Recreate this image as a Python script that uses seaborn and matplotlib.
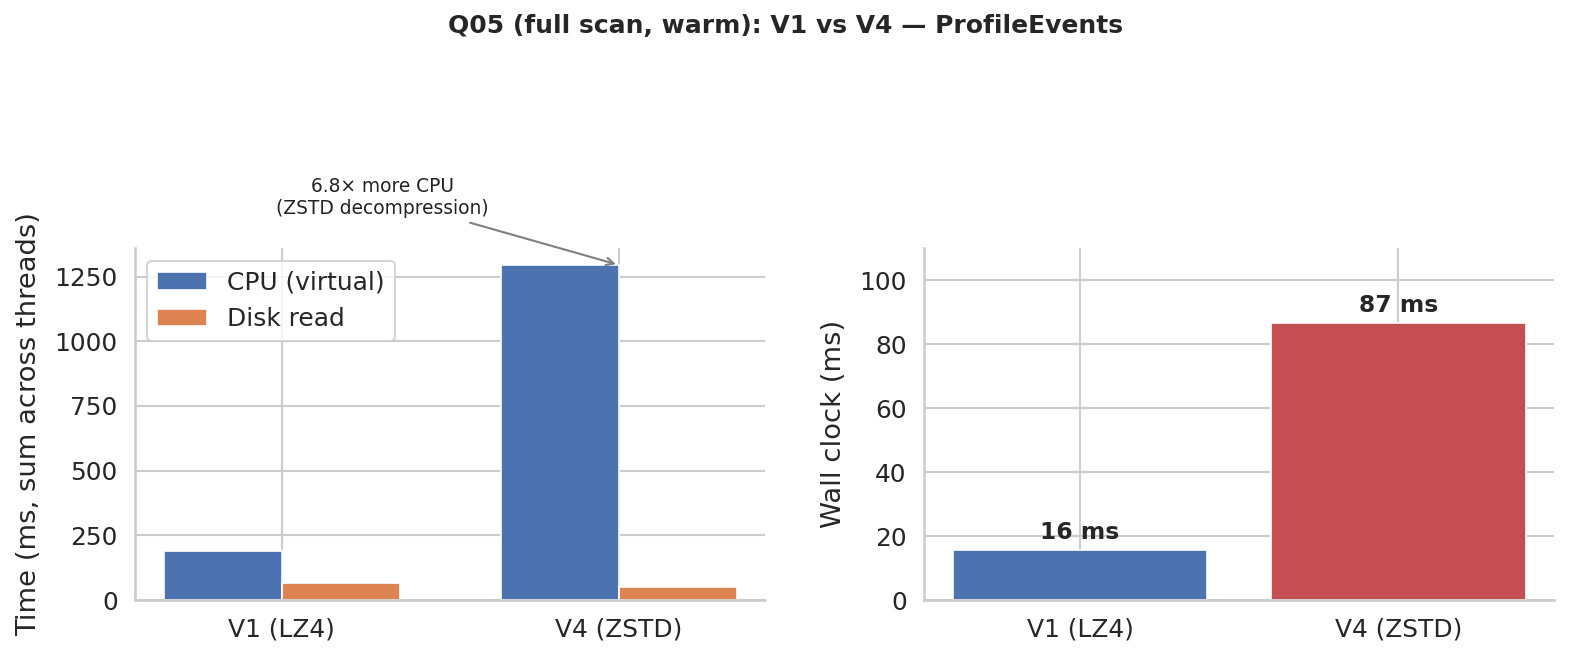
import matplotlib
matplotlib.use("Agg")
import matplotlib.pyplot as plt
from matplotlib.ticker import MultipleLocator
import seaborn as sns
import pandas as pd

versions = ["V1 (LZ4)", "V4 (ZSTD)"]
metrics = ["CPU (virtual)", "Disk read"]
cpu_ms = [190, 1295]
disk_ms = [66, 50]
wall_ms = [15.6, 86.6]
cpu_ratio_label = "6.8× more CPU\n(ZSTD decompression)"
title = "Q05 (full scan, warm): V1 vs V4 — ProfileEvents"

sns.set_theme(style="whitegrid", context="talk")
plt.rcParams["font.family"] = ["DejaVu Sans"]

deep = sns.color_palette("deep")
blue, orange, red = deep[0], deep[1], deep[3]

TICK = 17.9
LABEL = 19.7

fig, (ax1, ax2) = plt.subplots(1, 2, figsize=(15.7, 6.6), dpi=100)
fig.subplots_adjust(left=0.086, right=0.990, bottom=0.0909, top=0.624, wspace=0.252)

# Left: CPU vs disk
df_left = pd.DataFrame({
    "version": versions * 2,
    "metric": [metrics[0]] * 2 + [metrics[1]] * 2,
    "ms": cpu_ms + disk_ms,
})
sns.barplot(data=df_left, x="version", y="ms", hue="metric", order=versions,
            hue_order=metrics, palette=[blue, orange], width=0.7, saturation=1,
            edgecolor="white", linewidth=1.2, ax=ax1)
ax1.set_xlim(-0.435, 1.435)
ax1.yaxis.set_major_locator(MultipleLocator(250))
ax1.set_xlabel("")
ax1.set_ylabel("Time (ms, sum across threads)", fontsize=LABEL, labelpad=9)
ax1.tick_params(labelsize=TICK)
ax1.legend(loc="upper left", fontsize=TICK, title=None, frameon=True)
ax1.annotate(cpu_ratio_label, xy=(1, cpu_ms[1]), xytext=(0.3, cpu_ms[1] * 1.2),
             ha="center", va="center", fontsize=13.4, color="#222222",
             arrowprops=dict(arrowstyle="->", color="gray", lw=1.5),
             annotation_clip=False)

# Right: wall clock
df_right = pd.DataFrame({"version": versions, "wall": wall_ms})
sns.barplot(data=df_right, x="version", y="wall", hue="version", order=versions,
            palette=[blue, red], width=0.8, saturation=1, edgecolor="white",
            linewidth=1.2, legend=False, ax=ax2)
ax2.set_xlim(-0.49, 1.49)
ax2.set_ylim(0, 110)
ax2.set_xlabel("")
ax2.set_ylabel("Wall clock (ms)", fontsize=LABEL, labelpad=9)
ax2.tick_params(labelsize=TICK)
for i, v in enumerate(wall_ms):
    ax2.text(i, v + 2, f"{v:.0f} ms", ha="center", va="bottom",
             fontsize=16.8, fontweight="bold", color="#262626")

for ax in (ax1, ax2):
    ax.xaxis.grid(True)
    ax.yaxis.grid(True)
    ax.set_axisbelow(True)
    sns.despine(ax=ax)

fig.suptitle(title, fontsize=18, fontweight="bold", y=0.960, va="center")

fig.savefig("out.png", dpi=100)
